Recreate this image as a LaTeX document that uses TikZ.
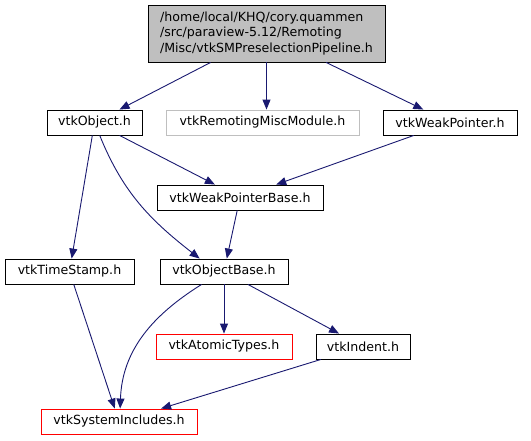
\documentclass[tikz,border=0pt]{standalone}
\usepackage{fontspec}
\setmainfont{DejaVu Sans}
\usepackage{tikz}
\usepackage{xcolor}
\usetikzlibrary{arrows.meta,calc,positioning}
\definecolor{Dox_Edge}{HTML}{191970}
\definecolor{Dox_Gray}{HTML}{BFBFBF}
\definecolor{Dox_Red}{HTML}{FF0000}

\begin{document}
\begin{tikzpicture}[x=1pt, y=1pt,
    hdr/.style={draw=black, line width=0.9pt, minimum height=25pt, inner sep=0pt, font=\fontsize{12.6}{14}\selectfont},
    sysinc/.style={hdr, draw=Dox_Red},
    extinc/.style={hdr, draw=Dox_Gray},
    incl/.style={-{Triangle[length=10pt, width=8pt]}, line width=0.9pt, Dox_Edge}]
    \useasboundingbox (0,0) rectangle (531,-440);

    % Root header
    \node[hdr, fill=Dox_Gray, minimum width=237pt, minimum height=57pt, align=left,
          font=\fontsize{12.6}{15.5}\selectfont] (root) at (266.5,-33.5)
        {/home/local/KHQ/cory.quammen\\/src/paraview-5.12/Remoting\\/Misc/vtkSMPreselectionPipeline.h};

    % First level
    \node[hdr, minimum width=95pt] (obj) at (94.5,-122.5) {vtkObject.h};
    \node[extinc, minimum width=193pt] (misc) at (262.5,-122.5) {vtkRemotingMiscModule.h};
    \node[hdr, minimum width=134pt] (weak) at (450,-122.5) {vtkWeakPointer.h};

    % Second level
    \node[hdr, minimum width=166pt] (wpbase) at (240,-197.5) {vtkWeakPointerBase.h};

    % Third level
    \node[hdr, minimum width=129pt] (stamp) at (69.5,-271.5) {vtkTimeStamp.h};
    \node[hdr, minimum width=128pt] (objbase) at (224,-271.5) {vtkObjectBase.h};

    % Fourth level
    \node[sysinc, minimum width=136pt] (atomic) at (224,-346.5) {vtkAtomicTypes.h};
    \node[hdr, minimum width=94pt] (indent) at (363,-346.5) {vtkIndent.h};

    % Bottom
    \node[sysinc, minimum width=156pt] (sysinc) at (119,-421.5) {vtkSystemIncludes.h};

    % Include edges
    \draw[incl] (root) -- (obj);
    \draw[incl] (root.south) -- (root.south |- misc.north);
    \draw[incl] (root) -- (weak);
    \draw[incl] (obj) -- (wpbase);
    \draw[incl] (obj) -- (stamp);
    \draw[incl] (obj.-68) to[out=-68, in=142] (objbase.152);
    \draw[incl] (weak) -- (wpbase);
    \draw[incl] (wpbase) -- (objbase);
    \draw[incl] (stamp) -- (sysinc);
    \draw[incl] (objbase.-150) to[out=-148, in=88] (sysinc.85);
    \draw[incl] (objbase) -- (atomic);
    \draw[incl] (objbase) -- (indent);
    \draw[incl] (indent) -- (sysinc);

\end{tikzpicture}
\end{document}
